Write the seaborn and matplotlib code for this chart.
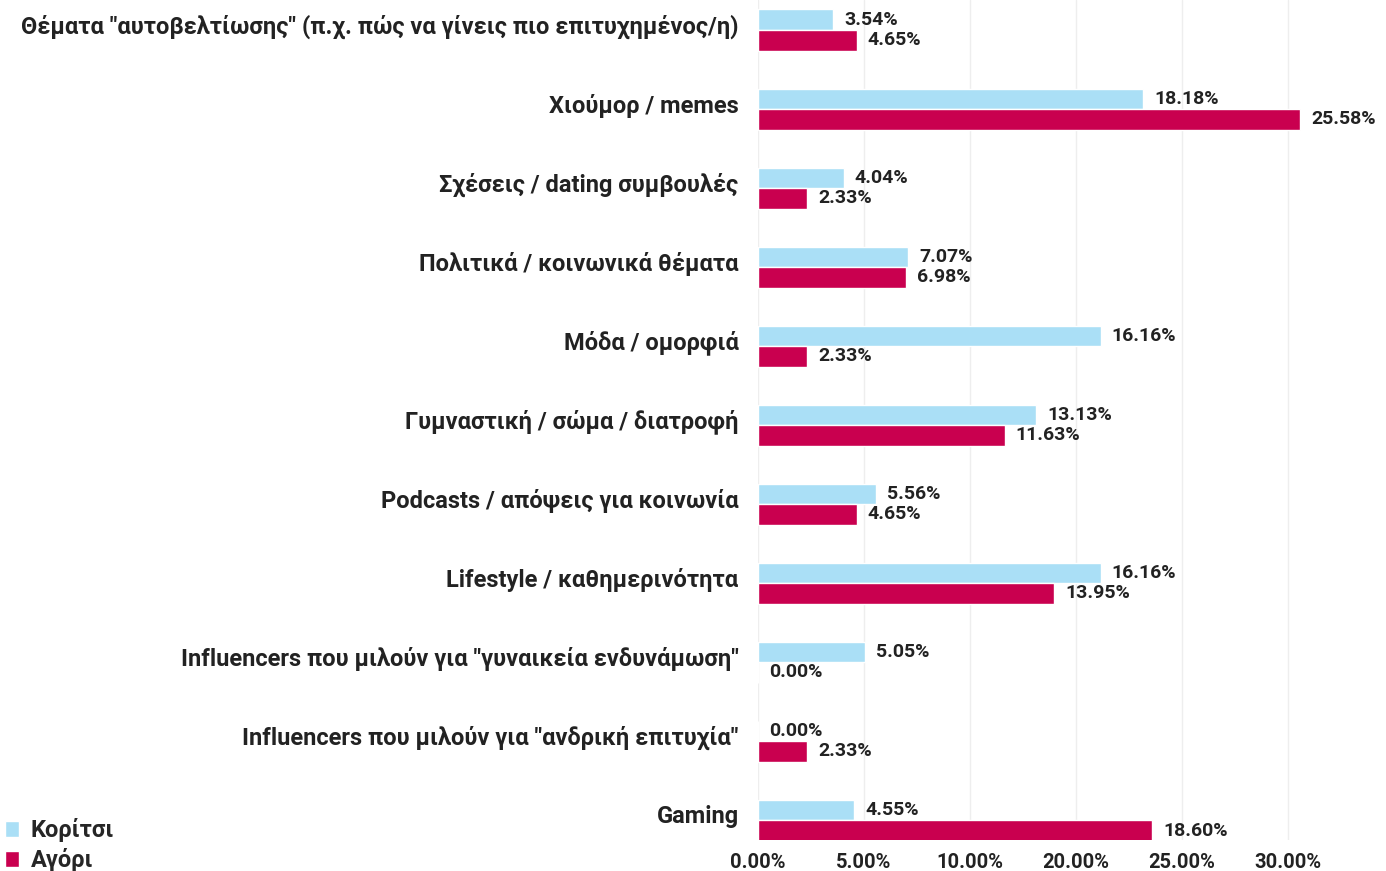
import pandas as pd
import seaborn as sns
import matplotlib.pyplot as plt
import matplotlib.transforms as mtransforms
from matplotlib.patches import Patch

sns.set_style("white")
plt.rcParams['font.family'] = ['Roboto', 'DejaVu Sans']

categories = [
    'Θέματα "αυτοβελτίωσης" (π.χ. πώς να γίνεις πιο επιτυχημένος/η)',
    'Χιούμορ / memes',
    'Σχέσεις / dating συμβουλές',
    'Πολιτικά / κοινωνικά θέματα',
    'Μόδα / ομορφιά',
    'Γυμναστική / σώμα / διατροφή',
    'Podcasts / απόψεις για κοινωνία',
    'Lifestyle / καθημερινότητα',
    'Influencers που μιλούν για "γυναικεία ενδυνάμωση"',
    'Influencers που μιλούν για "ανδρική επιτυχία"',
    'Gaming',
]
girls = [3.54, 18.18, 4.04, 7.07, 16.16, 13.13, 5.56, 16.16, 5.05, 0.00, 4.55]
boys = [4.65, 25.58, 2.33, 6.98, 2.33, 11.63, 4.65, 13.95, 0.00, 2.33, 18.60]
series = ['Κορίτσι', 'Αγόρι']
colors = ['#AADFF6', '#C9004F']
tick_values = [0, 5, 10, 15, 20, 25]
tick_labels = ['0.00%', '5.00%', '10.00%', '20.00%', '25.00%', '30.00%']

data = pd.DataFrame({
    'Κατηγορία': categories * 2,
    'Φύλο': [series[0]] * len(categories) + [series[1]] * len(categories),
    'Ποσοστό': girls + boys,
})

fig = plt.figure(figsize=(13.86, 8.71), dpi=100)
ax = fig.add_axes([758 / 1386, 31 / 871, (1340 - 758) / 1386, 840 / 871])

sns.barplot(
    data=data,
    y='Κατηγορία',
    x='Ποσοστό',
    hue='Φύλο',
    order=categories,
    hue_order=series,
    palette=colors,
    saturation=1,
    width=0.52,
    gap=0,
    orient='h',
    ax=ax,
    legend=False,
)

for container in ax.containers:
    ax.bar_label(container, fmt='%.2f%%', padding=8, fontsize=14,
                 fontweight='bold', color='#222222')

ax.set_xlim(0, 27.45)
ax.set_ylim(10.25, -0.38)
ax.set_xticks(tick_values)
ax.set_xticklabels(tick_labels, fontsize=14.5, fontweight='bold', color='#222222')
ax.tick_params(axis='y', labelsize=17, length=0, pad=14, labelcolor='#222222')
ax.tick_params(axis='x', length=0, pad=9)
shift = mtransforms.ScaledTranslation(0, 6 / 100, fig.dpi_scale_trans)
for lbl in ax.get_yticklabels():
    lbl.set_fontweight('bold')
    lbl.set_transform(lbl.get_transform() + shift)
ax.set_xlabel('')
ax.set_ylabel('')
ax.grid(axis='x', color='#EEEEEE', linewidth=1)
ax.set_axisbelow(True)
sns.despine(ax=ax, left=True, bottom=True)

handles = [Patch(facecolor=c, label=s) for c, s in zip(colors, series)]
fig.legend(handles=handles, loc='upper left', bbox_to_anchor=(0.0, 0.066),
           frameon=False, borderaxespad=0, borderpad=0.2,
           handlelength=0.6, handleheight=0.7, handletextpad=0.5,
           labelspacing=0.25, prop={'weight': 'bold', 'size': 17})

plt.savefig('out.png', dpi=100)
